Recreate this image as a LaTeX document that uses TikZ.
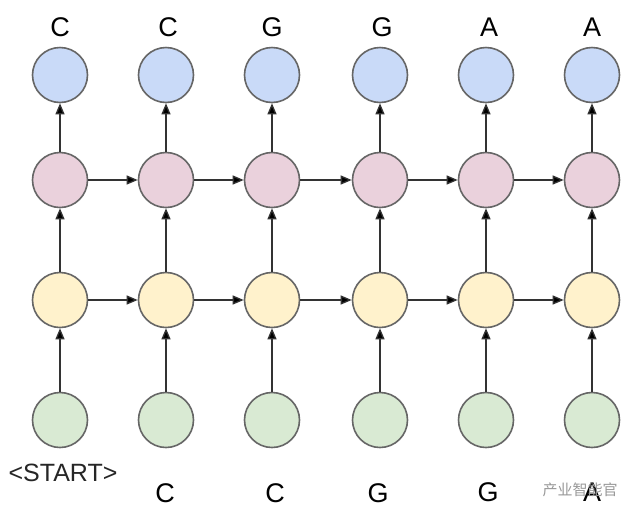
\documentclass[tikz,border=0pt]{standalone}
\usepackage{fontspec}
\setmainfont{Liberation Sans}
\newfontfamily\cjk{Noto Sans CJK SC}
\usetikzlibrary{arrows.meta}
\definecolor{cblue}{HTML}{C9DAF8}
\definecolor{cpink}{HTML}{EAD1DC}
\definecolor{cyellow}{HTML}{FFF2CC}
\definecolor{cgreen}{HTML}{D9EAD3}
\definecolor{cborder}{HTML}{666666}
\definecolor{cline}{HTML}{333333}
\begin{document}
\begin{tikzpicture}[x=1pt,y=-1pt,
  cell/.style={circle,draw=cborder,line width=1.6pt,minimum size=55pt,inner sep=0pt},
  conn/.style={draw=cline,line width=1.3pt,-{Triangle[length=11pt,width=9pt,fill=black]}},
  lbl/.style={font=\fontsize{27}{27}\selectfont,text=black,inner sep=0pt}]
\useasboundingbox (0,0) rectangle (640,523);
\fill[white] (0,0) rectangle (640,523);
\foreach \i/\x in {1/60,2/166,3/272,4/380,5/486,6/592}{
  \node[cell,fill=cblue]   (b\i) at (\x,75) {};
  \node[cell,fill=cpink]   (p\i) at (\x,180) {};
  \node[cell,fill=cyellow] (y\i) at (\x,300) {};
  \node[cell,fill=cgreen]  (g\i) at (\x,420) {};
  \draw[conn] (g\i) -- (y\i);
  \draw[conn] (y\i) -- (p\i);
  \draw[conn] (p\i) -- (b\i);
}
\foreach \i/\j in {1/2,2/3,3/4,4/5,5/6}{
  \draw[conn] (p\i) -- (p\j);
  \draw[conn] (y\i) -- (y\j);
}
\node[lbl] (t1) at (60,27) {C};
\node[lbl] (t2) at (168,27) {C};
\node[lbl] (t3) at (272,27) {G};
\node[lbl] (t4) at (382,27) {G};
\node[lbl] (t5) at (489,27) {A};
\node[lbl] (t6) at (592,27) {A};
\node[lbl,font=\fontsize{25}{25}\selectfont,text=black!85] (s1) at (63,473) {<START>};
\node[lbl] (s2) at (165,493) {C};
\node[lbl] (s3) at (275,493) {C};
\node[lbl] (s4) at (378,493) {G};
\node[lbl] (s5) at (488,492) {G};
\node[lbl] (s6) at (592,492) {A};
\node[text=black!40,font=\cjk\fontsize{15}{15}\selectfont,inner sep=0pt] (wm) at (580,490) {产业智能官};
\end{tikzpicture}
\end{document}
